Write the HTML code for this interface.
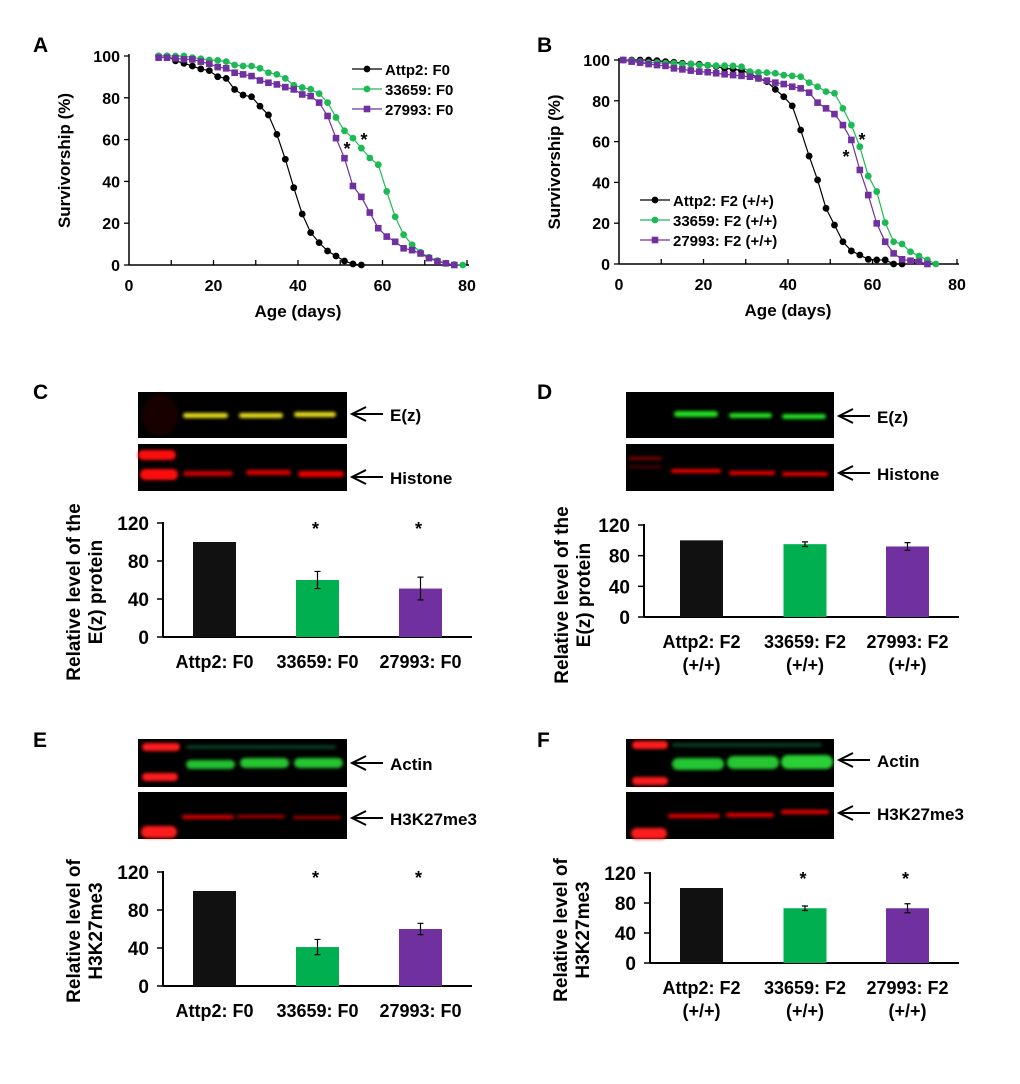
<!DOCTYPE html>
<html><head><meta charset="utf-8">
<style>
body{margin:0;background:#fff;}
svg text{font-family:"Liberation Sans",Arial,sans-serif;font-weight:bold;fill:#000;}
</style></head>
<body>
<svg id="fig" width="1020" height="1079" viewBox="0 0 1020 1079" xmlns="http://www.w3.org/2000/svg">
<defs>
<filter id="bl" x="-20%" y="-100%" width="140%" height="300%"><feGaussianBlur stdDeviation="1.6"/></filter>
</defs>
<g id="root"></g>
</svg>
<script>
// ---- Panel A data ----
const aDaysBlack=[7,9,11,13,15,17,19,21,23,25,27,29,31,33,35,37,39,41,43,45,47,49,51,53,55];
const aValsBlack=[100,100,97.7,96.5,95.2,93.8,93,90.1,89.3,84,81.3,80.5,76,71.8,62.5,50.6,37,24.4,15.5,10.7,6.7,4.3,1.9,0.5,0];
const aDaysGreen=[7,9,11,13,15,17,19,21,23,25,27,29,31,33,35,37,39,41,43,45,47,49,51,53,55,57,59,61,63,65,67,69,71,73,75,77,79];
const aValsGreen=[100,100,100,100,99.2,98.7,98.1,97.9,97.3,95.7,95.2,95.2,94.1,92,91.2,89.3,86,84.9,84.1,82,77.7,70.6,64.2,60.7,55.9,51.2,48,35.2,23.1,14.5,9.7,6.1,3.7,2.1,0.8,0.2,0];
const aDaysPurple=[7,9,11,13,15,17,19,21,23,25,27,29,31,33,35,37,39,41,43,45,47,49,51,53,55,57,59,61,63,65,67,69,71,73,75,77];
const aValsPurple=[99.2,99.2,98.9,98.4,98.4,97.3,96.3,94.7,94.1,92,91.2,90.4,88.3,87.2,86.4,85.1,84,81.6,80.8,77.7,71.3,60.7,51.1,37.8,32.6,25.1,17.6,13.6,11.1,8,7.1,5.5,3.3,1.7,0.8,0];
// ---- Panel B data ----
const bDaysBlack=[1,3,5,7,9,11,13,15,17,19,21,23,25,27,29,31,33,35,37,39,41,43,45,47,49,51,53,55,57,59,61,63,65,67];
const bValsBlack=[100,100,100,100,99.7,99.2,98.9,98.4,98,97.9,97.4,96.8,95.9,95.6,94.8,93.5,91,89.4,85.6,82,77.5,65.7,52.9,41.2,27.3,19.1,10.9,6.4,4.4,2.3,2,2,0,0];
const bDaysGreen=[1,3,5,7,9,11,13,15,17,19,21,23,25,27,29,31,33,35,37,39,41,43,45,47,49,51,53,55,57,59,61,63,65,67,69,71,73,75];
const bValsGreen=[100,99.7,99.2,98.7,98.7,98.4,98.4,98,98,97.5,97.5,97.2,97.2,97.1,96.7,94.3,93.9,93.8,93.5,92.6,92.2,91.8,88.9,86.9,84.5,83.7,76.3,68.1,57.5,43.1,35.5,20.3,10.9,9.8,6,3.9,2,0];
const bDaysPurple=[1,3,5,7,9,11,13,15,17,19,21,23,25,27,29,31,33,35,37,39,41,43,45,47,49,51,53,55,57,59,61,63,65,67,69,71,73];
const bValsPurple=[100,99.2,98.7,98,97.5,97.1,95.9,95.4,94.8,94.3,94,93.5,93,92.6,92.2,91.8,91,89.9,88.9,88.2,86.9,86.1,84,79.1,76.3,73.5,68.1,60.8,46.1,33.8,19.9,10.9,5.2,2.3,1.6,1.1,0];
const survTicksX=[0,20,40,60,80];
const survTicksY=[0,20,40,60,80,100];
// ---- Bar data ----
const barTicks=[0,40,80,120];
const cVals=[100,60,51]; const cErr=[0,9,12];
const dVals=[100,95,92]; const dErr=[0,3,5];
const eVals=[100,41,60]; const eErr=[0,8,6];
const fVals=[100,73,73]; const fErr=[0,3,6];
const labelsF0=["Attp2: F0","33659: F0","27993: F0"];
const labelsF2=["Attp2: F2","33659: F2","27993: F2"];

const NS="http://www.w3.org/2000/svg";
const root=document.getElementById('root');
function el(tag,attrs,parent,text){
  const e=document.createElementNS(NS,tag);
  for(const k in attrs)e.setAttribute(k,attrs[k]);
  if(text!==undefined)e.textContent=text;
  (parent||root).appendChild(e);return e;
}
const GREEN="#1db954",PURPLE="#7030a0",BARG="#00b050";

function panelLabel(t,x,y){
  const e=el('text',{x:x,y:y,'font-size':21},root,t);
  
  
}

function survChart(id,x0,x1,y0,y100,series,legend){
  const g=el('g',{});
  
  
  const sx=d=>x0+(x1-x0)*d/80, sy=v=>y0+(y100-y0)*v/100;
  el('line',{x1:x0,y1:y100-2,x2:x0,y2:y0,stroke:'#000','stroke-width':1.5},g);
  el('line',{x1:x0,y1:y0,x2:x1+2,y2:y0,stroke:'#000','stroke-width':1.5},g);
  survTicksY.forEach(v=>{
    el('line',{x1:x0-5,x2:x0,y1:sy(v),y2:sy(v),stroke:'#000','stroke-width':1.3},g);
    const t=el('text',{x:x0-9,y:sy(v)+6,'font-size':16,'text-anchor':'end'},g,v);
    
    
  });
  for(let d=10;d<=80;d+=10){
    el('line',{x1:sx(d),x2:sx(d),y1:y0,y2:y0-5,stroke:'#000','stroke-width':1.3},g);
  }
  survTicksX.forEach(d=>{
    const t=el('text',{x:sx(d),y:y0+26,'font-size':16,'text-anchor':'middle'},g,d);
    
    
  });
  const xt=el('text',{x:(x0+x1)/2,y:y0+52,'font-size':17,'text-anchor':'middle'},g,'Age (days)');
  
  
  const yt=el('text',{x:0,y:0,'font-size':17,'text-anchor':'middle',transform:`translate(${x0-59},${(y0+y100)/2}) rotate(-90)`},g,'Survivorship (%)');
  
  
  series.forEach(s=>{
    const pts=s.days.map((d,i)=>sx(d)+','+sy(s.vals[i])).join(' ');
    const pl=el('polyline',{points:pts,fill:'none',stroke:s.color,'stroke-width':1.2},g);
    
    
    s.days.forEach((d,i)=>{
      let m;
      if(s.shape==='sq') m=el('rect',{x:sx(d)-3.3,y:sy(s.vals[i])-3.3,width:6.6,height:6.6,fill:s.color},g);
      else m=el('circle',{cx:sx(d),cy:sy(s.vals[i]),r:3.4,fill:s.color},g);
      
      
    });
  });
  legend.items.forEach((it,i)=>{
    const ly=legend.y+i*20;
    const lg=el('g',{},g);
    
    
    el('line',{x1:legend.x,x2:legend.x+30,y1:ly,y2:ly,stroke:it.color,'stroke-width':1.2},lg);
    if(it.shape==='sq') el('rect',{x:legend.x+11.7,y:ly-3.3,width:6.6,height:6.6,fill:it.color},lg);
    else el('circle',{cx:legend.x+15,cy:ly,r:3.4,fill:it.color},lg);
    el('text',{x:legend.x+33,y:ly+6,'font-size':15},lg,it.label);
  });
  return {g,sx,sy};
}

function star(g,x,y){
  const t=el('text',{x:x,y:y,'font-size':18,'text-anchor':'middle'},g,'*');
  
  
}

panelLabel('A',33,52);
const A=survChart('panel-a',129,467,265,56,[
 {name:'attp2',days:aDaysBlack,vals:aValsBlack,color:'#000',shape:'c'},
 {name:'33659',days:aDaysGreen,vals:aValsGreen,color:GREEN,shape:'c'},
 {name:'27993',days:aDaysPurple,vals:aValsPurple,color:PURPLE,shape:'sq'}],
 {x:352,y:69,items:[{label:'Attp2: F0',color:'#000',shape:'c'},{label:'33659: F0',color:GREEN,shape:'c'},{label:'27993: F0',color:PURPLE,shape:'sq'}]});
star(A.g,347,155);star(A.g,364,146);

panelLabel('B',537,52);
const B=survChart('panel-b',619,957,264,60,[
 {name:'attp2',days:bDaysBlack,vals:bValsBlack,color:'#000',shape:'c'},
 {name:'33659',days:bDaysGreen,vals:bValsGreen,color:GREEN,shape:'c'},
 {name:'27993',days:bDaysPurple,vals:bValsPurple,color:PURPLE,shape:'sq'}],
 {x:640,y:200,items:[{label:'Attp2: F2 (+/+)',color:'#000',shape:'c'},{label:'33659: F2 (+/+)',color:GREEN,shape:'c'},{label:'27993: F2 (+/+)',color:PURPLE,shape:'sq'}]});
star(B.g,846,163);star(B.g,862,146);

function blot(name,x,y,w,h,bands,label,arrowY){
  const g=el('g',{});
  
  
  el('rect',{x:x,y:y,width:w,height:h,fill:'#000'},g);
  bands.forEach(b=>{
    el('rect',{x:x+b[0],y:y+b[1],width:b[2],height:b[3],rx:b[3]/2,fill:b[4],opacity:b[5]||1,filter:'url(#bl)'},g);
  });
  const ax=x+w+3;
  el('line',{x1:ax+2,y1:arrowY,x2:ax+33,y2:arrowY,stroke:'#000','stroke-width':2},g);
  el('polyline',{points:`${ax+16},${arrowY-7} ${ax+2},${arrowY} ${ax+16},${arrowY+7}`,fill:'none',stroke:'#000','stroke-width':2},g);
  const t=el('text',{x:ax+40,y:arrowY+7,'font-size':17},g,label);
  
  
}

function barChart(id,x0,x1,y0,y120,centers,vals,errs,labels,twoLine,stars,ytitle,tOff,tYoff){
  const g=el('g',{});
  
  
  const sy=v=>y0+(y120-y0)*v/120;
  el('line',{x1:x0,y1:y120-1,x2:x0,y2:y0,stroke:'#000','stroke-width':2},g);
  el('line',{x1:x0,y1:y0,x2:x1,y2:y0,stroke:'#000','stroke-width':2},g);
  barTicks.forEach(v=>{
    el('line',{x1:x0-6,x2:x0,y1:sy(v),y2:sy(v),stroke:'#000','stroke-width':1.5},g);
    const t=el('text',{x:x0-14,y:sy(v)+7,'font-size':19,'text-anchor':'end'},g,v);
    
    
  });
  const cols=['#111',BARG,PURPLE];
  vals.forEach((v,i)=>{
    const b=el('rect',{x:centers[i]-21.5,y:sy(v),width:43,height:y0-sy(v),fill:cols[i]},g);
    
    
    if(errs[i]>0){
      const c=centers[i],t=sy(v+errs[i]),bo=sy(v-errs[i]);
      el('path',{d:`M${c},${t}V${bo}M${c-3},${t}H${c+3}M${c-3},${bo}H${c+3}`,stroke:'#000','stroke-width':1.2,fill:'none'},g);
    }
    const lt=el('text',{x:centers[i],y:y0+31,'font-size':18,'text-anchor':'middle'},g,labels[i]);
    
    
    if(twoLine) el('text',{x:centers[i],y:y0+54,'font-size':18,'text-anchor':'middle'},g,'(+/+)');
    if(stars[i]) star(g,centers[i]-2,y120+12);
  });
  const tx=x0-tOff;
  const yt=el('text',{'font-size':19,'text-anchor':'middle',transform:`translate(${tx},${(y0+y120)/2+tYoff}) rotate(-90)`},g);
  
  
  el('tspan',{x:0,dy:0},yt,ytitle[0]);
  el('tspan',{x:0,dy:22},yt,ytitle[1]);
}

panelLabel('C',33,399);
blot('blot-c-ez',138,392,209,46,[[45,21,45,5,'#e8e020'],[101,21,44,5,'#e8e020'],[156,20,42,5,'#e8e020'],[4,2,36,42,'#300',0.5]],'E(z)',414);
blot('blot-c-histone',138,444,209,47,[[0,6,38,10,'#ff1010'],[2,25,38,11,'#ff1010'],[45,27,50,5,'#c00'],[108,26,45,5,'#d00'],[160,27,46,6,'#e00']],'Histone',477);
barChart('panel-c',163,472,637,523,[214.5,317.5,420.5],cVals,cErr,labelsF0,false,[0,1,1],['Relative level of the','E(z) protein'],83,12);

panelLabel('D',537,399);
blot('blot-d-ez',626,392,208,46,[[48,19,44,6,'#20e020'],[103,21,43,5,'#20e020'],[156,22,44,5,'#20e020']],'E(z)',416);
blot('blot-d-histone',626,444,208,47,[[2,13,34,3,'#800'],[2,22,34,2,'#600'],[45,25,50,4,'#e00'],[103,27,46,4,'#e00'],[156,28,46,4,'#e00']],'Histone',473);
barChart('panel-d',644,959,617,525,[701.5,805,907.5],dVals,dErr,labelsF2,true,[0,0,0],['Relative level of the','E(z) protein'],76,24);

panelLabel('E',33,747);
blot('blot-e-actin',138,739,209,48,[[4,4,38,8,'#ff1a1a'],[4,34,36,8,'#ff1a1a'],[48,21,49,9,'#22c030'],[102,19,49,10,'#25c530'],[156,19,49,10,'#28c530'],[48,6,150,4,'#153',0.7]],'Actin',763);
blot('blot-e-h3k27me3',138,792,209,47,[[3,34,36,12,'#ff1a1a'],[44,23,52,4,'#d00'],[99,23,48,3,'#b00'],[155,24,48,3,'#a00']],'H3K27me3',818);
barChart('panel-e',163,472,986,872,[214.5,317.5,420.5],eVals,eErr,labelsF0,false,[0,1,1],['Relative level of','H3K27me3'],83,2);

panelLabel('F',537,747);
blot('blot-f-actin',626,739,208,48,[[6,2,36,8,'#ff1a1a'],[6,38,36,8,'#ff1a1a'],[46,19,52,12,'#22c530'],[101,17,52,13,'#25c530'],[155,16,52,14,'#2ad035'],[46,4,150,4,'#153',0.7]],'Actin',760);
blot('blot-f-h3k27me3',626,792,208,47,[[5,36,36,11,'#ff1a1a'],[42,22,52,4,'#e00'],[100,21,48,4,'#e00'],[155,18,48,4,'#e00']],'H3K27me3',813);
barChart('panel-f',650,959,963,873,[701.5,805,907.5],fVals,fErr,labelsF2,true,[0,1,1],['Relative level of','H3K27me3'],83,12);
</script>
</body></html>
